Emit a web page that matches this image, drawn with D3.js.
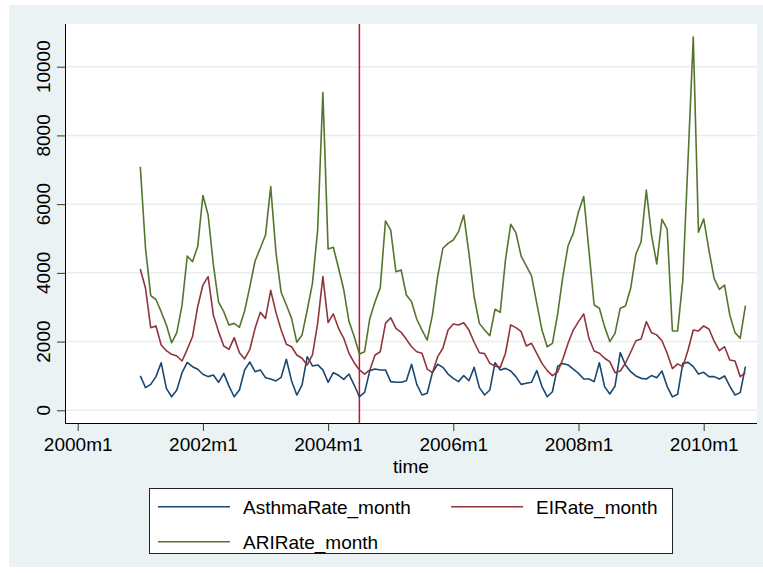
<!DOCTYPE html>
<html>
<head>
<meta charset="utf-8">
<script src="https://cdn.jsdelivr.net/npm/d3@7"></script>
<style>
  body { margin: 0; background: white; }
  text { font-family: "Liberation Sans", Arial, Helvetica, sans-serif; }
</style>
</head>
<body>
<div class="chart"></div>
<script>
    // monthly series, 2001m1 .. 2010m9 (one row per year)
    var firstMonth = 12;   // months since 2000m1
    var asthma = [
      1000,660,755,980,1385,640,395,590,1095,1395,1270,1195,
      1050,980,1025,815,1075,705,395,590,1175,1405,1125,1175,
      950,910,855,960,1485,855,445,735,1560,1290,1320,1175,
      815,1095,1020,900,1055,735,395,520,1155,1200,1175,1175,
      835,815,815,860,1340,755,445,495,1095,1340,1250,1055,
      930,835,1010,860,1250,660,445,590,1385,1175,1220,1145,
      980,755,785,815,1155,690,395,540,1280,1365,1320,1195,
      1075,910,910,835,1385,690,475,705,1680,1320,1125,1000,
      930,910,1010,950,1145,690,390,465,1370,1395,1270,1055,
      1105,980,980,910,1000,705,445,515,1270
    ];
    var ei = [
      4110,3550,2405,2455,1900,1735,1630,1580,1435,1775,2140,3015,
      3645,3890,2775,2290,1870,1775,2115,1675,1495,1775,2385,2850,
      2675,3490,2850,2335,1920,1850,1610,1515,1320,1610,2530,3890,
      2550,2805,2385,2095,1660,1385,1175,1050,1175,1610,1705,2530,
      2695,2385,2270,2065,1850,1705,1660,1200,1095,1560,1805,2335,
      2510,2485,2550,2335,1980,1675,1650,1365,1290,1250,1660,2485,
      2405,2290,1870,1950,1660,1365,1155,1010,1115,1495,1950,2335,
      2580,2805,2095,1725,1660,1515,1415,1095,1145,1370,1690,2025,
      2075,2580,2260,2195,2025,1660,1215,1350,1270,1755,2335,2310,
      2455,2365,2015,1735,1850,1465,1435,980,1095
    ];
    var ari = [
      7090,4715,3340,3225,2870,2480,1965,2260,3060,4490,4325,4765,
      6250,5685,4250,3145,2870,2480,2530,2415,2890,3600,4345,4715,
      5100,6510,4600,3435,3065,2675,1980,2190,2920,3695,5245,9245,
      4695,4745,4140,3510,2590,2150,1640,1705,2675,3160,3570,5510,
      5245,4035,4085,3355,3160,2650,2335,2045,2775,3890,4715,4860,
      4955,5200,5685,4570,3305,2530,2335,2170,2940,2850,4375,5415,
      5170,4490,4200,3915,3115,2335,1850,1950,2800,3890,4790,5150,
      5780,6220,4650,3065,2970,2435,2000,2240,2970,3035,3550,4540,
      4905,6410,5100,4260,5560,5270,2310,2310,3790,7300,10860,5180,
      5570,4665,3840,3520,3645,2775,2260,2095,3045
    ];
    var seriesNames = ["AsthmaRate_month", "EIRate_month", "ARIRate_month"];
    var seriesColors = ["#1a476f", "#90353b", "#55752f"];
    var xTicks = [0, 24, 48, 72, 96, 120];
    var xTickLabels = ["2000m1", "2002m1", "2004m1", "2006m1", "2008m1", "2010m1"];
    var yTicks = [0, 2000, 4000, 6000, 8000, 10000];
    var eventMonth = 54;   // 2004m7

    var svg = d3.select(".chart")
                .append("svg")
                .attr("width", 763)
                .attr("height", 573)
                .style("background-color", "white");

    // graph region and plot region
    svg.append("rect")
       .attr("x", 9).attr("y", 5)
       .attr("width", 754).attr("height", 562)
       .attr("fill", "#eaf2f3");
    svg.append("rect")
       .attr("x", 65).attr("y", 24)
       .attr("width", 692).attr("height", 399)
       .attr("fill", "white");

    var x = d3.scaleLinear().domain([0, 120]).range([77.7, 703.7]);
    var y = d3.scaleLinear().domain([0, 10000]).range([410.3, 66.7]);

    // gridlines
    svg.selectAll(".grid")
       .data(yTicks)
       .enter().append("line")
       .attr("x1", 65).attr("x2", 757)
       .attr("y1", d => y(d)).attr("y2", d => y(d))
       .attr("stroke", "#e6eef0")
       .attr("stroke-width", 1.5);

    // event line
    svg.append("line")
       .attr("x1", x(eventMonth)).attr("x2", x(eventMonth))
       .attr("y1", 24).attr("y2", 423)
       .attr("stroke", "#c41230")
       .attr("stroke-width", 1.5);

    var line = d3.line()
                 .x((d, i) => x(firstMonth + i))
                 .y(d => y(d));

    [asthma, ei, ari].forEach(function(s, k) {
      svg.append("path")
         .datum(s)
         .attr("d", line)
         .attr("fill", "none")
         .attr("stroke", seriesColors[k])
         .attr("stroke-width", 1.6)
         .attr("stroke-linejoin", "round");
    });

    // y axis
    var yAxis = svg.append("g")
                   .attr("transform", "translate(65,0)")
                   .call(d3.axisLeft(y).tickValues(yTicks).tickSize(8).tickFormat(""));
    yAxis.select(".domain").attr("d", "M0.5,24V423.5");
    yAxis.selectAll(".tick line").attr("stroke", "#333");
    yAxis.selectAll(".yl")
         .data(yTicks)
         .enter().append("text")
         .attr("transform", d => "translate(-15," + y(d) + ") rotate(-90)")
         .attr("text-anchor", "middle")
         .attr("fill", "black")
         .style("font-size", "19px")
         .text(d => d);

    // x axis
    var xAxis = svg.append("g")
                   .attr("transform", "translate(0,423)")
                   .call(d3.axisBottom(x).tickValues(xTicks).tickSize(8)
                           .tickFormat((d, i) => xTickLabels[i]));
    xAxis.select(".domain").attr("d", "M65,0.5H757");
    xAxis.selectAll(".tick line").attr("stroke", "#333");
    xAxis.selectAll(".tick text")
         .attr("y", 28).attr("dy", null)
         .attr("fill", "black")
         .style("font-size", "19px")
         .style("font-family", "'Liberation Sans', Arial, sans-serif");

    svg.append("text")
       .attr("x", 411).attr("y", 473)
       .attr("text-anchor", "middle")
       .style("font-size", "19px")
       .text("time");

    // legend
    svg.append("rect")
       .attr("x", 149.5).attr("y", 488.5)
       .attr("width", 523).attr("height", 65)
       .attr("fill", "white")
       .attr("stroke", "#222")
       .attr("stroke-width", 1);
    var legendPos = [[158, 506.7], [451, 506.7], [158, 541.7]];
    seriesNames.forEach(function(name, k) {
      var p = legendPos[k];
      svg.append("line")
         .attr("x1", p[0]).attr("x2", p[0] + 72)
         .attr("y1", p[1]).attr("y2", p[1])
         .attr("stroke", seriesColors[k])
         .attr("stroke-width", 1.6);
      svg.append("text")
         .attr("x", p[0] + 85).attr("y", p[1] + 7.5)
         .style("font-size", "19px")
         .text(name);
    });
</script>
</body>
</html>
